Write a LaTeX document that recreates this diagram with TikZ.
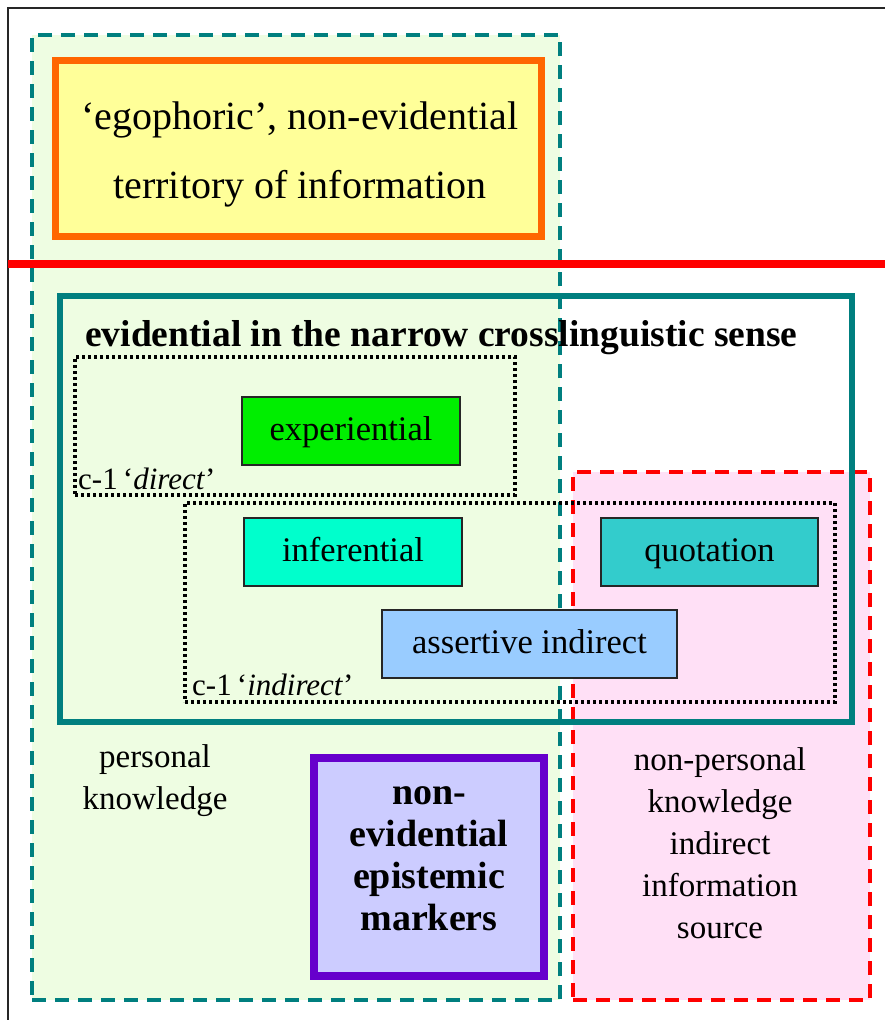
\documentclass[tikz,border=0pt]{standalone}
\usepackage{fontspec}
\setmainfont{Liberation Serif}
\definecolor{tealline}{HTML}{007F7F}
\definecolor{greenbg}{HTML}{EEFDE2}
\definecolor{pinkbg}{HTML}{FFE0F6}
\definecolor{orangeline}{HTML}{FF6600}
\definecolor{yellowfill}{HTML}{FFFF99}
\definecolor{expfill}{HTML}{00EE00}
\definecolor{inffill}{HTML}{00FFCC}
\definecolor{quotfill}{HTML}{33CCCC}
\definecolor{assfill}{HTML}{99CCFF}
\definecolor{purpleline}{HTML}{6600CC}
\definecolor{purplefill}{HTML}{CCCCFF}
\definecolor{redline}{HTML}{FF0000}
\tikzset{
  region/.style={inner sep=0pt, outer sep=0pt, rectangle},
  tealdash/.style={region, draw=tealline, line width=3.6pt, dash pattern=on 14pt off 9pt},
  reddash/.style={region, draw=redline, line width=4pt, dash pattern=on 14pt off 9pt},
  dotbox/.style={region, draw=black, line width=3.2pt, dash pattern=on 3pt off 3pt},
  catbox/.style={region, draw=black!85, line width=2.2pt, text height=25pt, text depth=7pt,
    font=\fontsize{34.5}{38}\selectfont},
  label/.style={inner sep=0pt, outer sep=0pt, align=center, font=\fontsize{33}{42}\selectfont},
}
\begin{document}
\begin{tikzpicture}[x=1pt,y=-1pt]
\useasboundingbox (0,0) rectangle (885,1020);
% frame
\coordinate (ftr) at (885,8);
\coordinate (ftl) at (8,8);
\coordinate (fbl) at (8,1020);
\draw[line width=2.2pt, black!85] (ftr) -- (ftl) -- (fbl);
% big regions
\node[tealdash, fill=greenbg, minimum width=528pt, minimum height=965pt] (personal) at (296,517.5) {};
\node[reddash, fill=pinkbg, minimum width=297pt, minimum height=528pt] (nonpersonal) at (721.5,736) {};
% egophoric box
\node[region, draw=orangeline, fill=yellowfill, line width=7pt, minimum width=486pt, minimum height=176pt] (ego) at (298.5,148.5) {};
\node[label, font=\fontsize{40}{69}\selectfont] (egotext) at (300,154) {‘egophoric’, non-evidential\\territory of information};
% red separator
\coordinate (sepl) at (8,264);
\coordinate (sepr) at (885,264);
\draw[redline, line width=8pt] (sepl) -- (sepr);
% evidential box
\node[region, draw=tealline, line width=6pt, minimum width=792pt, minimum height=426pt] (evid) at (456,509) {};
\node[inner sep=0pt, anchor=base west, font=\fontsize{37.5}{40}\selectfont\bfseries] (evidtitle) at (85,346) {evidential in the narrow crosslinguistic sense};
% dotted clusters
\node[dotbox, minimum width=440pt, minimum height=138pt] (direct) at (295,426) {};
\node[dotbox, minimum width=650pt, minimum height=199pt] (indirect) at (510,602.5) {};
\node[inner sep=0pt, anchor=base west, font=\fontsize{31}{32}\selectfont] (directlab) at (78,489) {c-1\,‘\textit{direct}’};
\node[inner sep=0pt, anchor=base west, font=\fontsize{31}{32}\selectfont] (indirectlab) at (192,695) {c-1\,‘\textit{indirect}’};
% categories
\node[catbox, fill=expfill, minimum width=218pt, minimum height=68pt] (exp) at (351,431) {experiential};
\node[catbox, fill=inffill, minimum width=218pt, minimum height=68pt] (inf) at (353,552) {inferential};
\node[catbox, fill=quotfill, minimum width=217pt, minimum height=68pt] (quot) at (709.5,552) {quotation};
\node[catbox, fill=assfill, minimum width=295pt, minimum height=68pt] (ass) at (529.5,644) {assertive indirect};
% labels
\node[label] (perslab) at (155,781) {personal\\knowledge};
\node[label] (nonperslab) at (720,843) {non-personal\\knowledge\\indirect\\information\\source};
% non-evidential epistemic markers
\node[region, draw=purpleline, fill=purplefill, line width=8pt, minimum width=230pt, minimum height=218pt] (epist) at (429,867) {};
\node[label, font=\fontsize{38}{42}\selectfont\bfseries] (epitext) at (429,859) {non-\\evidential\\epistemic\\markers};
\end{tikzpicture}
\end{document}
